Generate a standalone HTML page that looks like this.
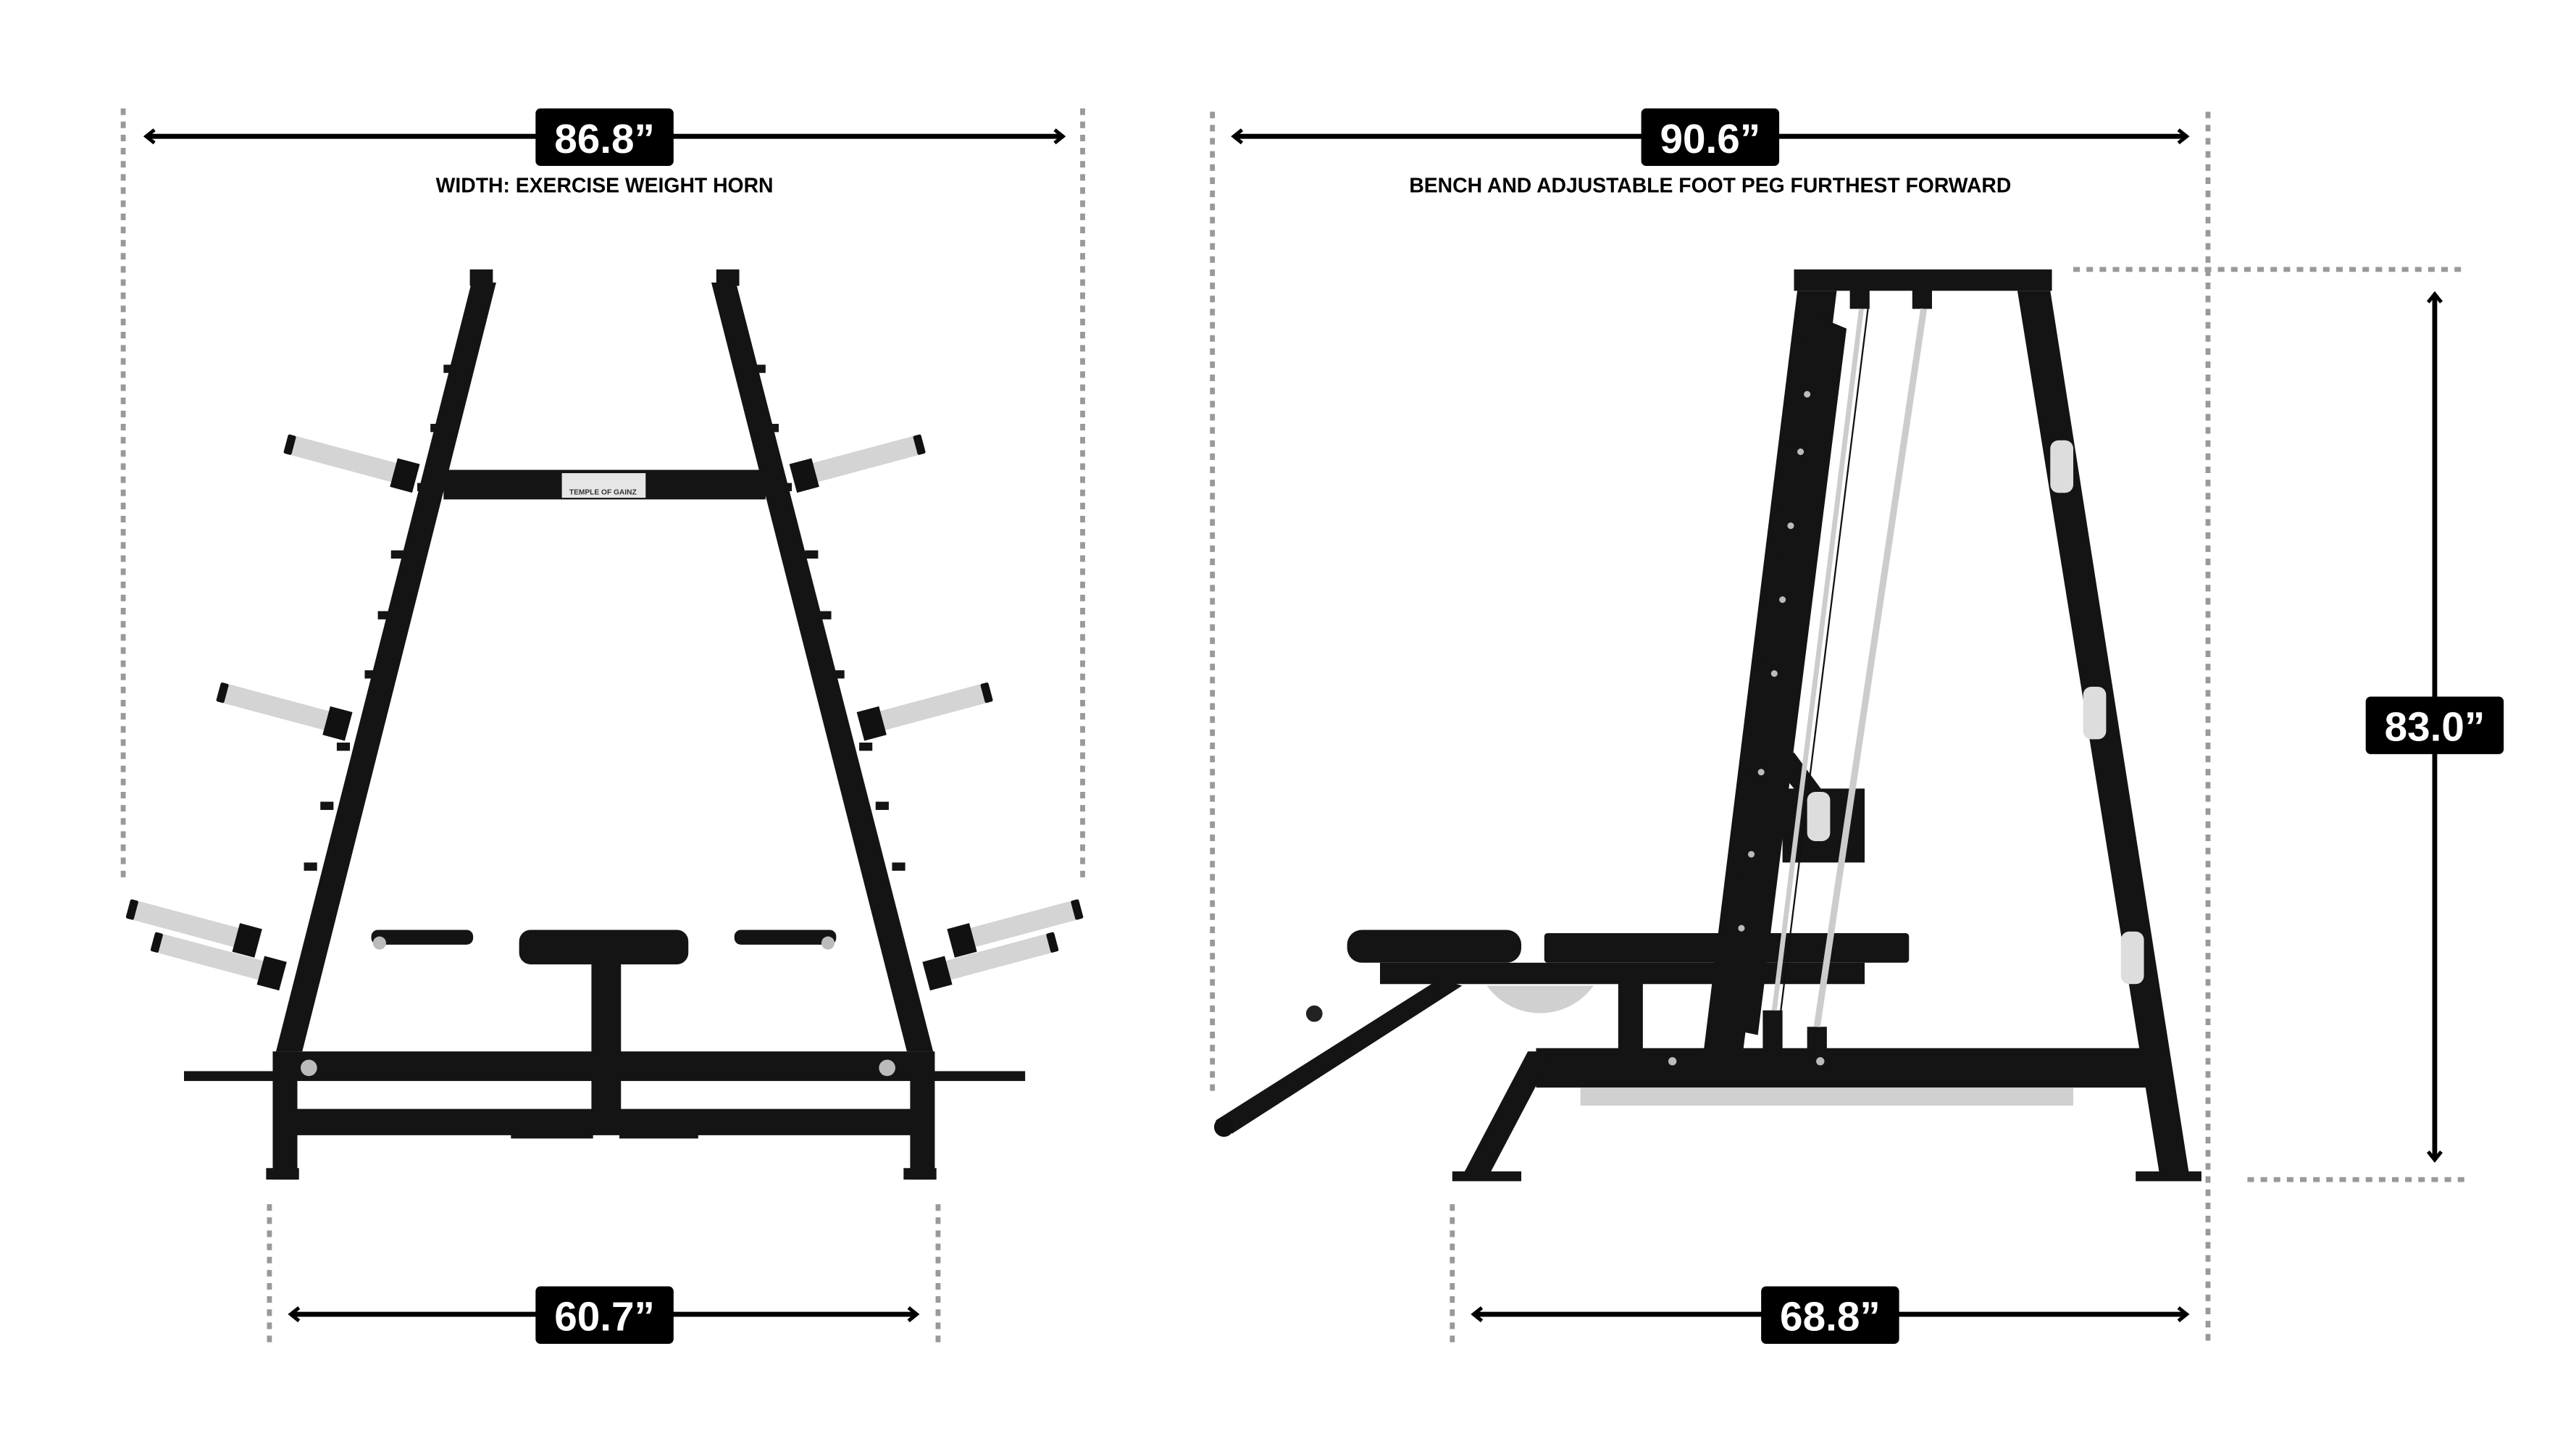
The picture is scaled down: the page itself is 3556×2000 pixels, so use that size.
<!DOCTYPE html>
<html><head><meta charset="utf-8"><style>
html,body{margin:0;padding:0;background:#fff;}
svg{display:block;}
text{font-family:"Liberation Sans",sans-serif;font-weight:bold;}
</style></head><body>
<svg width="3556" height="2000" viewBox="0 0 1568 882" preserveAspectRatio="none" xmlns="http://www.w3.org/2000/svg">
<defs>
<marker id="ah" markerWidth="10" markerHeight="10" refX="5" refY="5" orient="auto-start-reverse" markerUnits="userSpaceOnUse">
<path d="M1,1 L6,5 L1,9" fill="none" stroke="#000" stroke-width="2.2"/>
</marker>
<g id="hornL">
<rect x="0" y="-6" width="72" height="12" rx="2" fill="#d4d4d4"/>
<rect x="0" y="-6" width="5" height="12" rx="1" fill="#111"/>
<rect x="68" y="-9" width="14" height="18" fill="#111"/>
</g>
</defs>
<g fill="none" stroke="#999" stroke-width="3" stroke-dasharray="4,4">
<line x1="75" y1="66" x2="75" y2="535"/>
<line x1="659" y1="66" x2="659" y2="535"/>
<line x1="164" y1="733" x2="164" y2="818"/>
<line x1="571" y1="733" x2="571" y2="818"/>
<line x1="738" y1="68" x2="738" y2="665"/>
<line x1="1344" y1="68" x2="1344" y2="818"/>
<line x1="884" y1="733" x2="884" y2="818"/>
<line x1="1262" y1="164" x2="1500" y2="164"/>
<line x1="1368" y1="718" x2="1500" y2="718"/>
</g>
<g stroke="#000" stroke-width="3" marker-start="url(#ah)" marker-end="url(#ah)">
<line x1="90" y1="83" x2="646" y2="83"/>
<line x1="178" y1="800" x2="557" y2="800"/>
<line x1="752" y1="83" x2="1330" y2="83"/>
<line x1="898" y1="800" x2="1330" y2="800"/>
<line x1="1482" y1="180" x2="1482" y2="705"/>
</g>
<g fill="#000">
<rect x="326" y="66" width="84" height="35" rx="3"/>
<rect x="326" y="783" width="84" height="35" rx="3"/>
<rect x="999" y="66" width="84" height="35" rx="3"/>
<rect x="1072" y="783" width="84" height="35" rx="3"/>
<rect x="1440" y="424" width="84" height="35" rx="3"/>
</g>
<g fill="#fff" font-size="25" text-anchor="middle">
<text x="368" y="93">86.8”</text>
<text x="368" y="810">60.7”</text>
<text x="1041" y="93">90.6”</text>
<text x="1114" y="810">68.8”</text>
<text x="1482" y="451">83.0”</text>
</g>
<g fill="#000" font-size="12.5" text-anchor="middle">
<text x="368" y="117">WIDTH: EXERCISE WEIGHT HORN</text>
<text x="1041" y="117">BENCH AND ADJUSTABLE FOOT PEG FURTHEST FORWARD</text>
</g>

<!-- FRONT VIEW -->
<g fill="#141414">
<polygon points="287,172 302,172 184,640 168,640"/>
<polygon points="433,172 448,172 568,640 552,640"/>
<rect x="270" y="286" width="196" height="18"/>
<rect x="168" y="640" width="400" height="16"/>
<rect x="112" y="652" width="512" height="6"/>
<rect x="168" y="675" width="400" height="16"/>
<rect x="166" y="640" width="15" height="78"/>
<rect x="554" y="640" width="15" height="78"/>
<rect x="162" y="711" width="20" height="7"/>
<rect x="550" y="711" width="20" height="7"/>
<rect x="360" y="585" width="18" height="105"/>
<rect x="311" y="678" width="50" height="15"/>
<rect x="377" y="678" width="48" height="15"/>
<rect x="316" y="566" width="103" height="21" rx="7"/>
<rect x="226" y="566" width="62" height="9" rx="4"/>
<rect x="447" y="566" width="62" height="9" rx="4"/>
<rect x="286" y="164" width="14" height="10"/>
<rect x="436" y="164" width="14" height="10"/>
</g>
<rect x="342" y="288" width="51" height="15" fill="#e6e6e6"/>
<text x="367" y="301" font-size="4.5" text-anchor="middle" fill="#333">TEMPLE OF GAINZ</text>
<g fill="#141414">
<rect x="270" y="222" width="8" height="5"/><rect x="262" y="258" width="8" height="5"/><rect x="254" y="294" width="8" height="5"/>
<rect x="238" y="335" width="8" height="5"/><rect x="230" y="372" width="8" height="5"/><rect x="222" y="408" width="8" height="5"/>
<rect x="205" y="452" width="8" height="5"/><rect x="195" y="488" width="8" height="5"/><rect x="185" y="525" width="8" height="5"/>
<rect x="458" y="222" width="8" height="5"/><rect x="466" y="258" width="8" height="5"/><rect x="474" y="294" width="8" height="5"/>
<rect x="490" y="335" width="8" height="5"/><rect x="498" y="372" width="8" height="5"/><rect x="506" y="408" width="8" height="5"/>
<rect x="523" y="452" width="8" height="5"/><rect x="533" y="488" width="8" height="5"/><rect x="543" y="525" width="8" height="5"/>
</g>
<use href="#hornL" transform="translate(174,270) rotate(15)"/>
<use href="#hornL" transform="translate(133,421) rotate(15)"/>
<use href="#hornL" transform="translate(78,553) rotate(15)"/>
<use href="#hornL" transform="translate(93,573) rotate(15)"/>
<use href="#hornL" transform="translate(562,270) rotate(165) scale(1,-1)"/>
<use href="#hornL" transform="translate(603,421) rotate(165) scale(1,-1)"/>
<use href="#hornL" transform="translate(658,553) rotate(165) scale(1,-1)"/>
<use href="#hornL" transform="translate(643,573) rotate(165) scale(1,-1)"/>
<g fill="#bbb"><circle cx="188" cy="650" r="5"/><circle cx="540" cy="650" r="5"/><circle cx="231" cy="574" r="4"/><circle cx="504" cy="574" r="4"/></g>

<!-- SIDE VIEW -->
<g fill="#141414">
<rect x="1092" y="164" width="157" height="13"/>
<polygon points="1094,177 1118,177 1061,640 1037,640"/>
<polygon points="1100,190 1124,200 1070,630 1046,625"/>
<polygon points="1228,177 1248,177 1333,718 1315,718"/>
<rect x="935" y="638" width="375" height="24"/>
<polygon points="930,640 946,640 906,716 890,716"/>
<rect x="884" y="713" width="42" height="6"/>
<rect x="1300" y="713" width="40" height="6"/>
<rect x="1085" y="480" width="50" height="45"/>
<polygon points="1082,468 1092,458 1112,485 1102,492"/>
<rect x="820" y="566" width="106" height="20" rx="9"/>
<rect x="940" y="568" width="222" height="18" rx="2"/>
<rect x="840" y="586" width="295" height="13"/>
<rect x="985" y="598" width="15" height="42"/>
<polygon points="876,596 890,600 750,690 740,682"/>
<rect x="1126" y="176" width="12" height="12"/><rect x="1164" y="176" width="12" height="12"/>
<rect x="1073" y="615" width="12" height="25"/><rect x="1100" y="625" width="12" height="15"/>
</g>
<line x1="1133" y1="188" x2="1080" y2="615" stroke="#ccc" stroke-width="3"/>
<line x1="1137" y1="188" x2="1084" y2="615" stroke="#111" stroke-width="1"/>
<line x1="1171" y1="188" x2="1106" y2="625" stroke="#ccc" stroke-width="4"/>
<circle cx="745" cy="686" r="6" fill="#111"/>
<circle cx="800" cy="617" r="5" fill="#222"/>
<rect x="962" y="662" width="300" height="11" fill="#d0d0d0"/>
<path d="M905,600 A40,40 0 0 0 970,600 Z" fill="#d0d0d0"/>
<g fill="#ddd">
<rect x="1248" y="268" width="14" height="32" rx="5"/>
<rect x="1268" y="418" width="14" height="32" rx="5"/>
<rect x="1291" y="567" width="14" height="32" rx="5"/>
<rect x="1100" y="482" width="14" height="30" rx="5"/>
</g>
<g fill="#bbb">
<circle cx="1100" cy="240" r="2"/><circle cx="1096" cy="275" r="2"/><circle cx="1090" cy="320" r="2"/><circle cx="1085" cy="365" r="2"/><circle cx="1080" cy="410" r="2"/><circle cx="1072" cy="470" r="2"/><circle cx="1066" cy="520" r="2"/><circle cx="1060" cy="565" r="2"/>
<circle cx="1018" cy="646" r="2.5"/><circle cx="1108" cy="646" r="2.5"/>
</g>
</svg>
</body></html>
